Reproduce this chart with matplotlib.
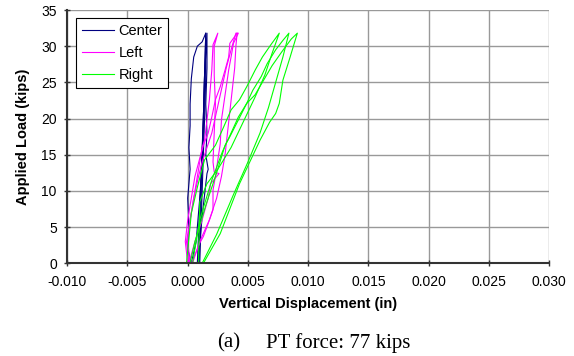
import matplotlib.pyplot as plt

plt.rcParams['font.family'] = ['Liberation Sans', 'DejaVu Sans']
plt.rcParams['axes.unicode_minus'] = False

# Center gauge (3 load cycles)
center_x_1 = [0.0008, 0.0009, 0.0010, 0.0011, 0.0012, 0.0013, 0.0014, 0.0015,
              0.0012, 0.0008, 0.0005, 0.0003, 0.0002, 0.0002, 0.0001, 0.0002, 0.0000, 0.0001, 0.0000, 0.0003]
center_y_1 = [0, 4, 8, 12, 16, 20, 26, 31.8,
              30.6, 30.0, 28.5, 25.5, 22, 19, 16, 13, 9, 5, 2, 0]
center_x_2 = [0.0003, 0.0007, 0.0009, 0.0011, 0.0012, 0.0013, 0.0014, 0.0016,
              0.0016, 0.0015, 0.0016, 0.0015, 0.0017, 0.0016, 0.0013, 0.0010, 0.0009]
center_y_2 = [0, 3, 7, 11, 15, 20, 26, 31.8,
              27, 22, 18, 15, 13, 12.4, 8, 3, 0]
center_x_3 = [0.0009, 0.0010, 0.0011, 0.0012, 0.0013, 0.0014, 0.0015,
              0.0015, 0.0014, 0.0013, 0.0012, 0.0011, 0.0010]
center_y_3 = [0, 5, 10, 15, 20, 26, 31.8,
              26, 20, 15, 10, 5, 0]

# Left gauge
left_x_1 = [0.0001, -0.0001, 0.0002, 0.0005, 0.0008, 0.0012, 0.0014, 0.0016, 0.0018, 0.0020, 0.0021, 0.0025,
            0.0022, 0.0022, 0.0023, 0.0022, 0.0021, 0.0022, 0.0026, 0.0019, 0.0017, 0.0012, 0.0006, 0.0001]
left_y_1 = [0, 3, 6, 9, 12, 16, 17, 19.8, 22.6, 26.7, 30.2, 31.8,
            30, 26, 22, 18, 14, 12.6, 12.4, 11, 9, 6, 3, 0]
left_x_2 = [0.0000, -0.0002, 0.0000, 0.0003, 0.0006, 0.0010, 0.0013, 0.0017, 0.0020, 0.0023, 0.0027, 0.0031,
            0.0034, 0.0035, 0.0041,
            0.0042, 0.0038, 0.0036, 0.0034, 0.0032, 0.0030, 0.0028, 0.0027, 0.0025, 0.0023, 0.0021, 0.0021,
            0.0017, 0.0013, 0.0010, 0.0003]
left_y_2 = [0, 3, 6, 9, 12, 14.5, 16.3, 18, 20.2, 22.6, 24.4, 26.7,
            28.5, 30.4, 31.8,
            31.8, 30.4, 28.5, 26.7, 24.4, 22.1, 19.8, 16.5, 14.3, 12, 10.1, 7.4,
            5.5, 3.7, 2.8, 0]
left_x_3 = [0.0002, 0.0000, 0.0002, 0.0005, 0.0009, 0.0012, 0.0016, 0.0020, 0.0024, 0.0028, 0.0032, 0.0036, 0.0040,
            0.0041, 0.0040, 0.0039, 0.0037, 0.0035, 0.0033, 0.0031, 0.0028, 0.0024, 0.0018, 0.0010, 0.0004]
left_y_3 = [0, 3, 6, 9, 12, 14, 16, 18, 21, 24, 27, 29.5, 31.8,
            31.8, 30, 27, 24, 21, 18, 15, 12, 9, 6, 3, 0]

# Right gauge
right_x_1 = [0.0009, 0.0010, 0.0016, 0.0025, 0.0036, 0.0046, 0.0056, 0.0064, 0.0070, 0.0076,
             0.0069, 0.0062, 0.0056, 0.0049, 0.0043, 0.0036, 0.0030, 0.0023, 0.0014, 0.0008, 0.0003, -0.0001]
right_y_1 = [0, 8.5, 11, 13, 16, 19.5, 23, 26, 29, 31.8,
             30.2, 28.5, 26.7, 24.4, 22.6, 21.2, 18.9, 16.3, 14.3, 10.5, 6.9, 0]
right_x_2 = [0.0012, 0.0024, 0.0038, 0.0050, 0.0060, 0.0067, 0.0073, 0.0079, 0.0084,
             0.0079, 0.0073, 0.0066, 0.0061, 0.0054, 0.0049, 0.0042, 0.0035, 0.0031, 0.0024, 0.0015, 0.0006, 0.0002]
right_y_2 = [0, 4, 9.5, 14, 18, 21.5, 25, 28.5, 31.8,
             30.8, 29.5, 27.6, 25.8, 23.9, 22.1, 19.8, 17.5, 16.3, 12.5, 8, 3, 0]
right_x_3 = [0.0013, 0.0027, 0.0043, 0.0060, 0.0068, 0.0073, 0.0076, 0.0079, 0.0085, 0.0091,
             0.0086, 0.0078, 0.0070, 0.0063, 0.0056, 0.0049, 0.0042, 0.0036, 0.0029, 0.0020, 0.0010, 0.0004]
right_y_3 = [0, 4.1, 11, 17, 19.5, 20.7, 22.1, 25.3, 28.5, 31.8,
             31, 29.2, 27.3, 25.3, 23.3, 22.1, 20.2, 18, 15.5, 11.5, 6, 0]

x_ticks = [-0.010, -0.005, 0.000, 0.005, 0.010, 0.015, 0.020, 0.025, 0.030]
y_ticks = [0, 5, 10, 15, 20, 25, 30, 35]

fig = plt.figure(figsize=(5.74, 3.56), dpi=100)
ax = fig.add_axes([67.2 / 574, 1 - 263.3 / 356, 482 / 574, 253.3 / 356])

lw = 0.8
ax.plot(center_x_1, center_y_1, color='#000080', lw=lw, label='Center')
ax.plot(center_x_2, center_y_2, color='#000080', lw=lw)
ax.plot(center_x_3, center_y_3, color='#000080', lw=lw)
ax.plot(left_x_1, left_y_1, color='#ff00ff', lw=lw, label='Left')
ax.plot(left_x_2, left_y_2, color='#ff00ff', lw=lw)
ax.plot(left_x_3, left_y_3, color='#ff00ff', lw=lw)
ax.plot(right_x_1, right_y_1, color='#00ff00', lw=lw, label='Right')
ax.plot(right_x_2, right_y_2, color='#00ff00', lw=lw)
ax.plot(right_x_3, right_y_3, color='#00ff00', lw=lw)

ax.set_xlim(-0.010, 0.030)
ax.set_ylim(0, 35)
ax.set_xticks(x_ticks)
ax.set_xticklabels(['%.3f' % v for v in x_ticks])
ax.set_yticks(y_ticks)
ax.grid(True, color='#999999', lw=1)
ax.set_axisbelow(True)
for s in ['top', 'right']:
    ax.spines[s].set_visible(False)
for s in ['left', 'bottom']:
    ax.spines[s].set_color('#333333')
    ax.spines[s].set_linewidth(1.5)
ax.tick_params(direction='inout', length=5, width=1, color='#333333', labelsize=10)
ax.tick_params(axis='x', pad=6)
ax.tick_params(axis='y', pad=5)

ax.set_xlabel('Vertical Displacement (in)', fontsize=10.5, fontweight='bold', labelpad=6)
ax.set_ylabel('Applied Load (kips)', fontsize=10.5, fontweight='bold', labelpad=8)

leg = ax.legend(loc='upper left', bbox_to_anchor=(0.0176, 0.968), borderaxespad=0, fontsize=10.5,
                frameon=True, fancybox=False, edgecolor='black', framealpha=1, borderpad=0.4,
                handlelength=2.25, handletextpad=0.3, labelspacing=0.55)
leg.get_frame().set_linewidth(0.8)

fig.text(217 / 574, 1 - 343 / 356, '(a)', family='Liberation Serif', fontsize=15, va='center', ha='left')
fig.text(266 / 574, 1 - 343 / 356, 'PT force: 77 kips', family='Liberation Serif', fontsize=15,
         va='center', ha='left')

fig.savefig('out.png', dpi=100)
